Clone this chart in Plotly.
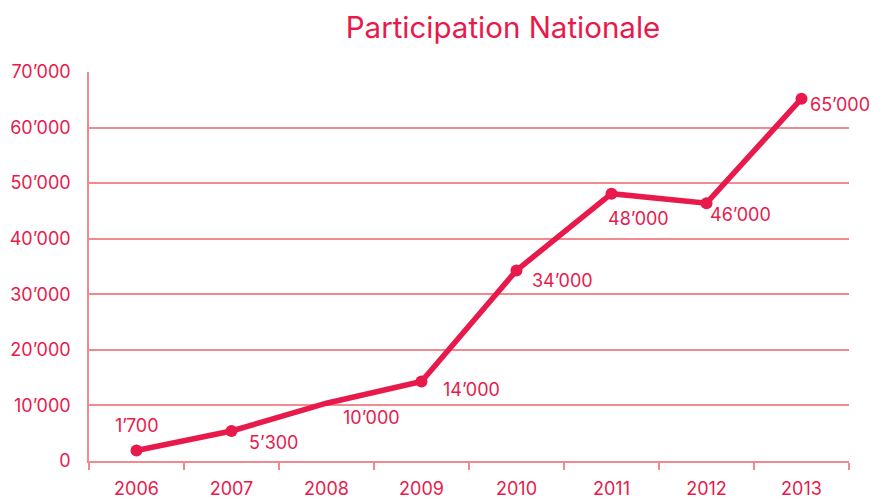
import plotly.graph_objects as go

years = ["2006", "2007", "2008", "2009", "2010", "2011", "2012", "2013"]
values = [1900, 5400, 10400, 14300, 34300, 48100, 46400, 65200]
labels = ["1’700", "5’300", "10’000", "14’000", "34’000", "48’000", "46’000", "65’000"]
ytick_vals = [0, 10000, 20000, 30000, 40000, 50000, 60000, 70000]
ytick_text = ["0", "10’000", "20’000", "30’000", "40’000", "50’000", "60’000", "70’000"]

RED = "#E8194B"
GRID = "#F08A8F"
FONT = "Inter, Roboto, sans-serif"

marker_sizes = [12, 12, 0, 12, 12, 12, 12, 12]
label_offsets = [(0, 25), (42, -12), (45, -14), (50, -8), (46, -10), (27, -25), (34, -11), (38, -6)]

fig = go.Figure()
fig.add_trace(go.Scatter(
    x=years, y=values, mode="lines+markers",
    line=dict(color=RED, width=5.5),
    marker=dict(color=RED, size=marker_sizes, opacity=1, line=dict(width=0)),
    hoverinfo="skip", showlegend=False,
))

for i, (v, lab, (dx, dy)) in enumerate(zip(values, labels, label_offsets)):
    fig.add_annotation(x=i, y=v, xref="x", yref="y", text=lab, showarrow=False,
                       xshift=dx, yshift=dy,
                       font=dict(family=FONT, size=18, color=RED))

fig.update_layout(
    width=882, height=499,
    margin=dict(l=89, r=33, t=72, b=38, autoexpand=False),
    paper_bgcolor="white", plot_bgcolor="white",
    title=dict(text="Participation Nationale", x=503/882, xanchor="center",
               y=1 - 28/499, yanchor="middle", xref="container", yref="container",
               font=dict(family=FONT, size=29.5, color=RED), automargin=False),
    font=dict(family=FONT, color=RED),
)
fig.update_xaxes(
    type="category", range=[-0.5, 7.5], automargin=False,
    showgrid=False, showline=True, linecolor=GRID, linewidth=1.5,
    ticks="outside", tickson="boundaries", ticklen=7, tickcolor=GRID, tickwidth=1.5,
    tickfont=dict(family=FONT, size=18, color=RED),
    ticklabelstandoff=11, zeroline=False,
)
fig.update_yaxes(
    range=[0, 70000], tickvals=ytick_vals, ticktext=ytick_text, automargin=False,
    showgrid=True, gridcolor=GRID, gridwidth=1.5,
    showline=True, linecolor=GRID, linewidth=1.5,
    zeroline=False, ticks="",
    tickfont=dict(family=FONT, size=18, color=RED),
    ticklabelstandoff=13,
)

fig.write_html("out.html", config={"displayModeBar": False},
               post_script="document.body.style.margin='0';document.body.style.overflow='hidden';")
